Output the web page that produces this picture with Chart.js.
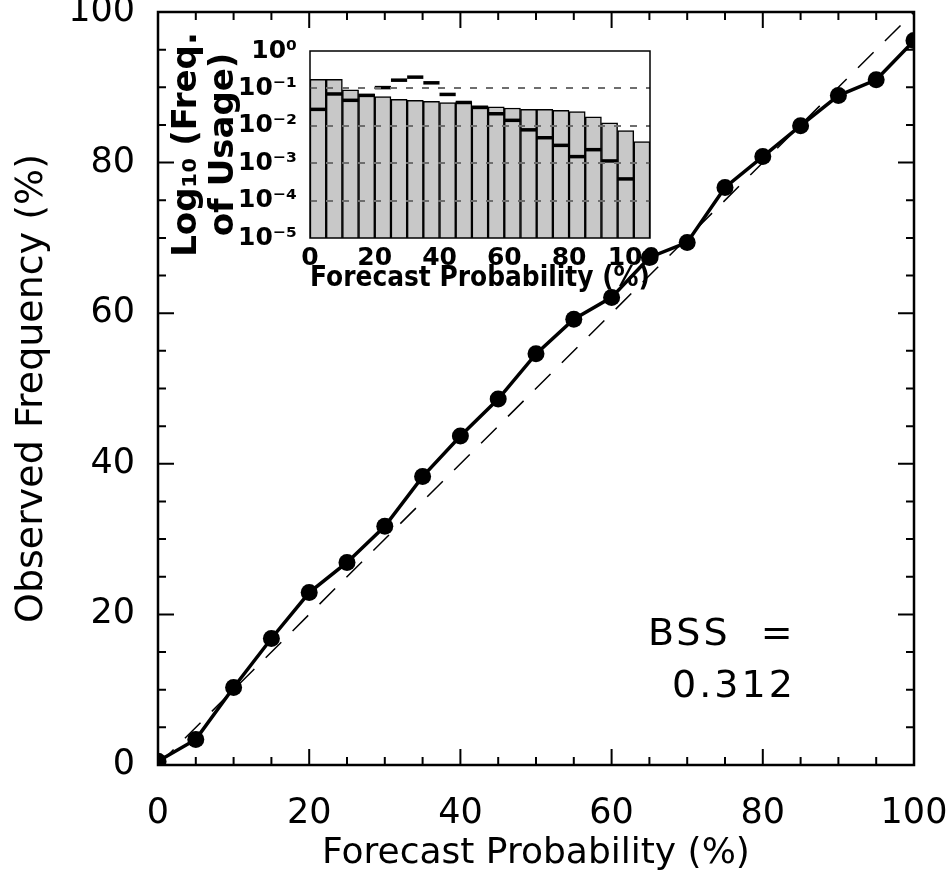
<!DOCTYPE html>
<html>
<head>
<meta charset="utf-8">
<title>Reliability diagram</title>
<script src="https://cdn.jsdelivr.net/npm/chart.js@4/dist/chart.umd.min.js"></script>
<style>
  html, body { margin: 0; padding: 0; background: #ffffff; }
  #wrap { position: relative; width: 949px; height: 877px; }
  #inset { position: absolute; left: 150px; top: 30px; z-index: 1; }
  #main { position: absolute; left: 0; top: 0; z-index: 2; }
</style>
</head>
<body>
<div id="wrap">
  <canvas id="inset" width="520" height="270"></canvas>
  <canvas id="main" width="949" height="877"></canvas>
</div>
<script>
// Forecast probability bins (%) and observed frequency (%) per bin
const PROB = [0, 5, 10, 15, 20, 25, 30, 35, 40, 45, 50, 55, 60, 65, 70, 75, 80, 85, 90, 95, 100];
const OBS_FREQ = [0.5, 3.4, 10.3, 16.8, 22.9, 26.9, 31.7, 38.3, 43.7, 48.6, 54.6, 59.2, 62.1, 67.4, 69.4, 76.7, 80.8, 84.9, 88.9, 91.0, 96.2];

// Perfect-reliability diagonal
const DIAG_X = [0, 100];
const DIAG_Y = [0, 100];

// Skill score annotation
const BSS_TEXT = ['BSS  =', '0.312'];
const BSS_POS_X = [64.8, 68.0];
const BSS_POS_Y = [17.2, 10.3];

// Inset: frequency of usage per 5% bin (gray bars) and the second usage curve (black dashes)
const BIN_WIDTH = 5;
const USAGE_BARS = [0.174, 0.174, 0.091, 0.071, 0.060, 0.051, 0.048, 0.045, 0.042, 0.044, 0.034,
                    0.032, 0.030, 0.0275, 0.0275, 0.026, 0.024, 0.0174, 0.012, 0.0074, 0.0038];
const USAGE_MARKS = [0.0275, 0.071, 0.048, 0.065, 0.105, 0.166, 0.20, 0.141, 0.069, 0.042, 0.031,
                     0.021, 0.014, 0.0078, 0.0048, 0.0030, 0.0015, 0.0023, 0.00115, 0.00038, null];
const INSET_Y_TICKS = [1, 1e-1, 1e-2, 1e-3, 1e-4, 1e-5];
const INSET_Y_LABELS = ['10⁰', '10⁻¹', '10⁻²', '10⁻³', '10⁻⁴', '10⁻⁵'];

const FONT = "'DejaVu Sans', 'Liberation Sans', sans-serif";

// Closed frame with inward-pointing major/minor ticks on all four sides
const frameTicks = {
  id: 'frameTicks',
  beforeDatasetsDraw(chart, args, opts) {
    if (!opts.enabled) return;
    const { ctx, chartArea: a, scales: { x, y } } = chart;
    ctx.save();
    ctx.strokeStyle = '#000';
    ctx.lineWidth = opts.tickWidth;
    ctx.beginPath();
    x.ticks.forEach(t => {
      const px = x.getPixelForValue(t.value);
      const len = t.value % opts.major === 0 ? opts.majorLen : opts.minorLen;
      ctx.moveTo(px, a.bottom); ctx.lineTo(px, a.bottom - len);
      ctx.moveTo(px, a.top); ctx.lineTo(px, a.top + len);
    });
    y.ticks.forEach(t => {
      const py = y.getPixelForValue(t.value);
      const len = t.value % opts.major === 0 ? opts.majorLen : opts.minorLen;
      ctx.moveTo(a.left, py); ctx.lineTo(a.left + len, py);
      ctx.moveTo(a.right, py); ctx.lineTo(a.right - len, py);
    });
    ctx.stroke();
    ctx.lineWidth = opts.frameWidth;
    ctx.strokeRect(a.left, a.top, a.width, a.height);
    ctx.restore();
  }
};

// Text annotation placed in data coordinates
const bssLabel = {
  id: 'bssLabel',
  afterDraw(chart) {
    const { ctx, scales: { x, y } } = chart;
    ctx.save();
    ctx.fillStyle = '#000';
    ctx.font = "38px " + FONT;
    ctx.textAlign = 'left';
    ctx.textBaseline = 'middle';
    try { ctx.letterSpacing = '3px'; } catch (e) {}
    BSS_TEXT.forEach((s, i) => {
      ctx.fillText(s, x.getPixelForValue(BSS_POS_X[i]), y.getPixelForValue(BSS_POS_Y[i]));
    });
    ctx.restore();
  }
};

// Plain box around the inset plotting area
const insetFrame = {
  id: 'insetFrame',
  afterDraw(chart) {
    const { ctx, chartArea: a } = chart;
    ctx.save();
    ctx.strokeStyle = '#000';
    ctx.lineWidth = 1.5;
    ctx.strokeRect(a.left, a.top, a.width, a.height);
    ctx.restore();
  }
};

function fixedWidth(w) {
  return s => { s.width = w; s.paddingTop = 0; s.paddingBottom = 0; s.paddingLeft = 0; s.paddingRight = 0; };
}
function fixedHeight(h) {
  return s => { s.height = h; s.paddingTop = 0; s.paddingBottom = 0; s.paddingLeft = 0; s.paddingRight = 0; };
}

Chart.defaults.font.family = FONT;
Chart.defaults.color = '#000';

// ---- Main reliability diagram ----
new Chart(document.getElementById('main'), {
  type: 'scatter',
  data: {
    datasets: [
      {
        label: 'Observed frequency',
        data: PROB.map((p, i) => ({ x: p, y: OBS_FREQ[i] })),
        showLine: true,
        borderColor: '#000',
        backgroundColor: '#000',
        borderWidth: 3.5,
        pointRadius: 8.5,
        pointBorderWidth: 0,
        pointHoverRadius: 8.5,
        order: 0
      },
      {
        label: 'Perfect reliability',
        data: DIAG_X.map((v, i) => ({ x: v, y: DIAG_Y[i] })),
        showLine: true,
        borderColor: '#000',
        borderWidth: 1.5,
        borderDash: [22, 16],
        pointRadius: 0,
        order: 1
      }
    ]
  },
  options: {
    responsive: false,
    animation: false,
    devicePixelRatio: 1,
    layout: { padding: { top: 12, right: 35, left: 0, bottom: 2 } },
    plugins: {
      legend: { display: false },
      tooltip: { enabled: false },
      frameTicks: { enabled: true, major: 20, majorLen: 16, minorLen: 8, tickWidth: 2, frameWidth: 2.5 }
    },
    scales: {
      x: {
        type: 'linear', min: 0, max: 100,
        afterFit: fixedHeight(110),
        grid: { display: false },
        border: { display: false },
        ticks: {
          stepSize: 5, autoSkip: false, maxRotation: 0, padding: 20,
          font: { size: 35 },
          callback: v => (v % 20 === 0 ? String(v) : '')
        },
        title: { display: true, text: 'Forecast Probability (%)', font: { size: 36 }, padding: { top: 0, bottom: 0 } }
      },
      y: {
        type: 'linear', min: 0, max: 100,
        afterFit: fixedWidth(158),
        grid: { display: false },
        border: { display: false },
        ticks: {
          stepSize: 5, autoSkip: false, padding: 15,
          font: { size: 35 },
          callback: v => (v % 20 === 0 ? String(v) : '')
        },
        title: { display: true, text: 'Observed Frequency (%)', font: { size: 38 }, padding: { top: 9, bottom: 0 } }
      }
    }
  },
  plugins: [frameTicks, bssLabel]
});

// ---- Inset: usage histogram on a log axis ----
new Chart(document.getElementById('inset'), {
  type: 'bar',
  data: {
    datasets: [
      {
        type: 'scatter',
        label: 'Usage (line)',
        data: PROB.map((p, i) => ({ x: p + BIN_WIDTH / 2, y: USAGE_MARKS[i] })),
        showLine: false,
        pointStyle: 'line',
        borderColor: '#000',
        borderWidth: 3.5,
        pointRadius: c => {
          const s = c.chart.scales.x;
          return Math.abs(s.getPixelForValue(BIN_WIDTH) - s.getPixelForValue(0)) / 2;
        },
        order: 0
      },
      {
        label: 'Usage',
        data: PROB.map((p, i) => ({ x: p + BIN_WIDTH / 2, y: USAGE_BARS[i] })),
        backgroundColor: '#c8c8c8',
        borderColor: '#000',
        borderWidth: 1.5,
        barPercentage: 1,
        categoryPercentage: 1,
        order: 1
      }
    ]
  },
  options: {
    responsive: false,
    animation: false,
    devicePixelRatio: 1,
    layout: { padding: { top: 21, right: 20, left: 0, bottom: 4 } },
    plugins: { legend: { display: false }, tooltip: { enabled: false } },
    scales: {
      x: {
        type: 'linear', min: 0, max: 105, offset: false,
        afterFit: fixedHeight(58),
        grid: { display: false },
        border: { display: false },
        ticks: {
          stepSize: 20, includeBounds: false, autoSkip: false, maxRotation: 0, padding: 0,
          font: { size: 25, weight: 'bold', lineHeight: 1 },
          callback: v => (v % 20 === 0 ? String(v) : '')
        },
        title: { display: true, text: 'Forecast Probability (%)', font: { size: 28, weight: 'bold' }, padding: { top: 0, bottom: 0 } }
      },
      y: {
        type: 'logarithmic', min: 1e-5, max: 1,
        afterFit: fixedWidth(160),
        afterBuildTicks: s => { s.ticks = INSET_Y_TICKS.map(v => ({ value: v })); },
        grid: {
          z: 1,
          drawTicks: false,
          lineWidth: 2,
          color: c => (c.tick && c.tick.value < 1 && c.tick.value > 1e-5 ? '#6e6e6e' : 'rgba(0,0,0,0)')
        },
        border: { display: false, dash: [7, 9] },
        ticks: {
          padding: 13,
          font: { size: 25, weight: 'bold' },
          callback: v => {
            const i = INSET_Y_TICKS.findIndex(t => Math.abs(Math.log10(t) - Math.log10(v)) < 1e-6);
            return i >= 0 ? INSET_Y_LABELS[i] : '';
          }
        },
        title: {
          display: true,
          text: ['Log₁₀ (Freq.', 'of Usage)'],
          font: { size: 34, weight: 'bold', lineHeight: 1.1 },
          padding: { top: 18, bottom: 0 }
        }
      }
    }
  },
  plugins: [insetFrame]
});
</script>
</body>
</html>
